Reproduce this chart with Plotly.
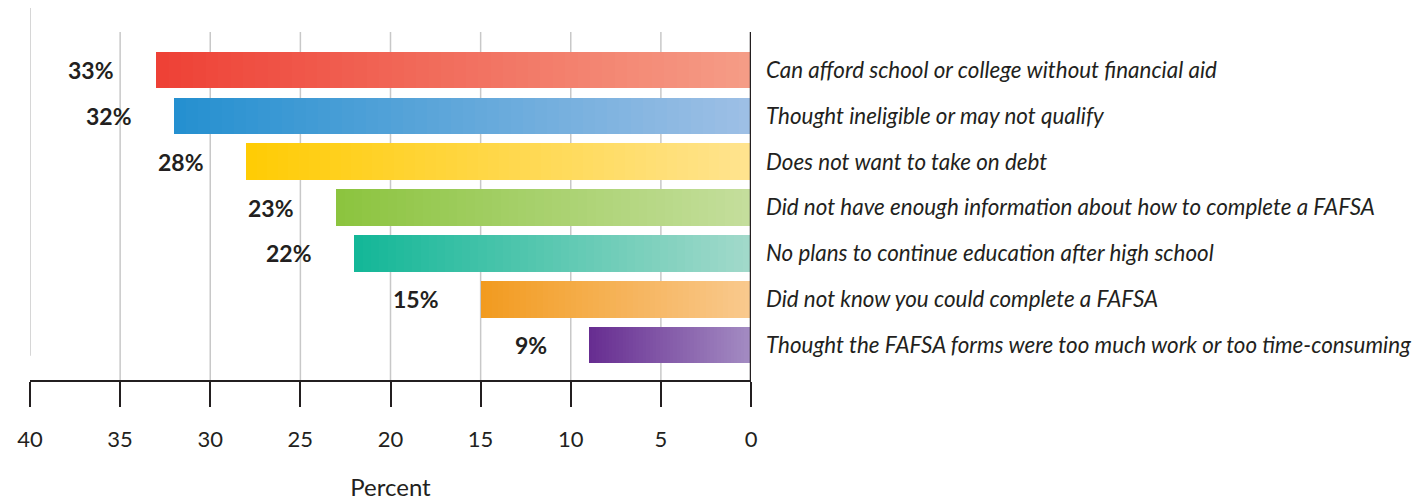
import plotly.graph_objects as go

categories = [
    "Can afford school or college without financial aid",
    "Thought ineligible or may not qualify",
    "Does not want to take on debt",
    "Did not have enough information about how to complete a FAFSA",
    "No plans to continue education after high school",
    "Did not know you could complete a FAFSA",
    "Thought the FAFSA forms were too much work or too time-consuming",
]
values = [33, 32, 28, 23, 22, 15, 9]
dark_colors = ["#EE4136", "#2590D0", "#FFCC05", "#8CC43F", "#14B798", "#F29B20", "#672D91"]
light_colors = ["#F59C86", "#9DBFE5", "#FFE38E", "#C4DE9C", "#A1D9CA", "#F9C98D", "#A38BC2"]
tick_vals = [40, 35, 30, 25, 20, 15, 10, 5, 0]

FONT = "Lato"
TXT = "#231F20"


def hex2rgb(h):
    h = h.lstrip("#")
    return [int(h[i:i + 2], 16) for i in (0, 2, 4)]


def mix(c1, c2, t):
    a, b = hex2rgb(c1), hex2rgb(c2)
    return "rgb(%d,%d,%d)" % tuple(round(a[i] + (b[i] - a[i]) * t) for i in range(3))


fig = go.Figure()

# gradient bars: stacked segments from 0 (light) outwards to the value (dark)
N = 48
for k in range(N):
    fig.add_trace(go.Bar(
        y=categories,
        x=[v / N for v in values],
        orientation="h",
        width=0.8,
        marker=dict(color=[mix(l, d, k / (N - 1)) for d, l in zip(dark_colors, light_colors)],
                    line=dict(width=0)),
        hoverinfo="skip",
        showlegend=False,
    ))

# percent labels
for c, v in zip(categories, values):
    fig.add_annotation(x=v, y=c, xref="x", yref="y", text="<b>%d%%</b>" % v,
                       showarrow=False, xanchor="right", xshift=-40,
                       font=dict(family=FONT, size=23, color=TXT))

# gridlines
shapes = []
for t in tick_vals[1:-1]:
    shapes.append(dict(type="line", xref="x", yref="paper", x0=t, x1=t, y0=0, y1=1,
                       line=dict(color="#C8C8C8", width=1.5), layer="below"))
shapes.append(dict(type="line", xref="x", yref="paper", x0=40, x1=40, y0=0.07, y1=1.069,
                   line=dict(color="#C8C8C8", width=1.5), layer="below"))
# zero line
shapes.append(dict(type="line", xref="x", yref="paper", x0=0, x1=0, y0=0, y1=1,
                   line=dict(color="#231F20", width=2.5), layer="above"))
fig.update_layout(shapes=shapes)

fig.update_layout(
    width=1420, height=493,
    margin=dict(l=22, r=677, t=24, b=121),
    barmode="stack",
    plot_bgcolor="white", paper_bgcolor="white",
    xaxis=dict(
        range=[40, 0], tickvals=tick_vals, ticks="outside", ticklen=25, tickwidth=2,
        tickcolor="#231F20", showline=True, linecolor="#231F20", linewidth=2,
        showgrid=False, zeroline=False, ticklabelstandoff=14, automargin=False,
        tickfont=dict(family=FONT, size=22, color=TXT),
        title=dict(text="Percent", font=dict(family=FONT, size=24, color=TXT), standoff=36),
    ),
    yaxis=dict(
        categoryorder="array", categoryarray=categories,
        range=[6.76, -0.83], side="right", showgrid=False, zeroline=False,
        showline=False, ticks="", ticklabelstandoff=14, automargin=False,
        tickfont=dict(family=FONT, size=22.4, color=TXT, style="italic"),
    ),
)

fig.write_html("out.html")
